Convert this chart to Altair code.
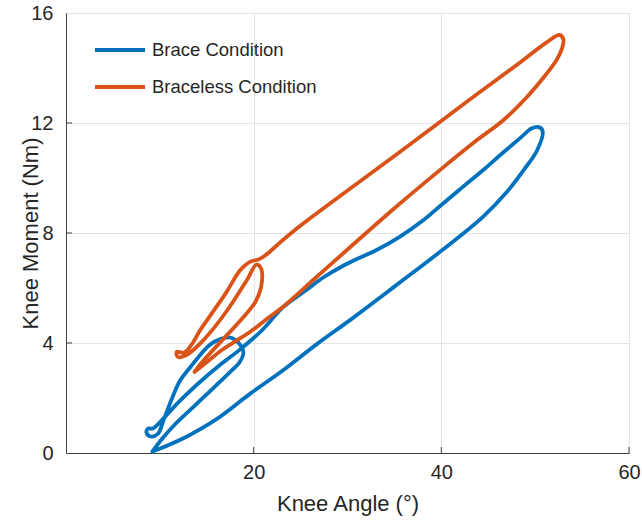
import altair as alt
import pandas as pd

# Knee angle (deg) / knee moment (Nm) loops over one gait cycle
brace_angle = [9.2, 11.0, 13.0, 16.0, 19.6, 23.1, 26.7, 30.3, 35.0, 40.1, 44.4, 47.0, 48.8,
               50.2, 50.8, 50.4, 49.6, 48.4, 46.5, 44.5, 42.2, 40.0, 38.1, 35.6, 33.1,
               31.3, 29.5, 27.5, 25.5, 23.2, 20.7, 18.5, 16.4, 14.0, 12.0, 10.5, 9.3,
               8.7, 8.6, 9.0, 9.8, 10.4, 11.2, 12.1, 13.2, 15.3, 16.5, 17.5, 18.4, 18.9,
               18.5, 17.5, 15.7, 13.5, 11.5, 10.2, 9.2]
brace_moment = [0.05, 0.3, 0.62, 1.22, 2.15, 3.0, 3.95, 4.84, 6.05, 7.38, 8.58, 9.5, 10.3,
                11.0, 11.7, 11.85, 11.8, 11.45, 10.9, 10.3, 9.65, 9.02, 8.47, 7.87, 7.38,
                7.1, 6.8, 6.4, 5.9, 5.32, 4.4, 3.75, 3.2, 2.5, 1.85, 1.3, 0.9,
                0.88, 0.72, 0.6, 0.7, 1.2, 1.9, 2.6, 3.1, 3.93, 4.15, 4.2, 4.0, 3.65,
                3.3, 2.95, 2.36, 1.65, 1.0, 0.5, 0.05]

braceless_angle = [13.7, 15.0, 16.5, 18.0, 19.6, 21.5, 23.1, 26.7, 30.3, 35.0, 40.1, 43.5,
                   46.6, 49.0, 51.0, 52.3, 52.9, 53.0, 52.6, 51.3, 48.0, 44.0, 40.1, 35.0,
                   30.3, 25.0, 22.8, 21.3, 20.6, 19.6, 18.5, 17.1, 15.3, 14.3, 13.5, 12.6,
                   11.8, 11.9, 12.8, 14.5, 17.0, 19.3, 20.3, 20.8, 20.8, 20.2, 18.8, 16.5,
                   14.5, 13.7]
braceless_moment = [2.95, 3.3, 3.72, 4.05, 4.4, 4.9, 5.31, 6.4, 7.49, 8.9, 10.36, 11.3,
                    12.1, 12.9, 13.7, 14.3, 14.75, 15.05, 15.2, 14.95, 14.1, 13.1, 12.1, 10.8,
                    9.62, 8.27, 7.65, 7.2, 7.05, 6.95, 6.62, 5.85, 4.96, 4.47, 4.0, 3.65,
                    3.68, 3.5, 3.55, 4.05, 5.1, 6.3, 6.85, 6.7, 6.05, 5.5, 4.9, 4.05,
                    3.3, 2.95]

series_names = ["Brace Condition", "Braceless Condition"]
series_colors = ["#0072BD", "#D95319"]

x_ticks = [20, 40, 60]
y_ticks = [0, 4, 8, 12, 16]

rows = []
for name, xs, ys in [(series_names[0], brace_angle, brace_moment),
                     (series_names[1], braceless_angle, braceless_moment)]:
    for i, (a, m) in enumerate(zip(xs, ys)):
        rows.append({"condition": name, "idx": i, "angle": a, "moment": m})
df = pd.DataFrame(rows)

FONT = "Liberation Sans"
W, H = 563, 440

x_scale = alt.Scale(domain=[0, 60], nice=False, zero=False)
y_scale = alt.Scale(domain=[0, 16], nice=False, zero=False)

lines = alt.Chart(df).mark_line(strokeWidth=3.8, interpolate="catmull-rom",
                                strokeJoin="round", strokeCap="round").encode(
    x=alt.X("angle:Q", scale=x_scale,
            axis=alt.Axis(title="Knee Angle (°)", values=x_ticks, grid=True, ticks=False,
                          labelFlush=False, labelPadding=9, titlePadding=11)),
    y=alt.Y("moment:Q", scale=y_scale,
            axis=alt.Axis(title="Knee Moment (Nm)", values=y_ticks, grid=True, ticks=False,
                          labelFlush=False, labelPadding=13, titlePadding=-12)),
    color=alt.Color("condition:N",
                    scale=alt.Scale(domain=series_names, range=series_colors),
                    legend=alt.Legend(title=None, orient="none", legendX=27, legendY=10,
                                      symbolType="stroke", symbolSize=2500,
                                      symbolStrokeWidth=3.8, labelFontSize=18.5,
                                      labelFont=FONT, labelColor="#262626", labelLimit=400,
                                      labelOffset=5, rowPadding=-13, padding=0)),
    order=alt.Order("idx:Q"),
    detail="condition:N",
)

# inward tick marks on the bottom and left axes
xtick_df = pd.DataFrame({"v": x_ticks})
ytick_df = pd.DataFrame({"v": [4, 8, 12]})
xticks = alt.Chart(xtick_df).mark_rule(color="#404040", strokeWidth=1).encode(
    x=alt.X("v:Q", scale=x_scale), y=alt.value(H), y2=alt.value(H - 6))
yticks = alt.Chart(ytick_df).mark_rule(color="#404040", strokeWidth=1).encode(
    y=alt.Y("v:Q", scale=y_scale), x=alt.value(0), x2=alt.value(6))

chart = alt.layer(lines, xticks, yticks).properties(
    width=W, height=H,
    autosize=alt.AutoSizeParams(type="none"),
    padding={"left": 66, "top": 13, "right": 13, "bottom": 68},
    background="white",
).configure_view(
    stroke="#a0a0a0", strokeWidth=1
).configure_axis(
    labelFont=FONT, titleFont=FONT, labelFontSize=20, titleFontSize=22,
    labelColor="#262626", titleColor="#262626", titleFontWeight="normal",
    domainColor="#404040", gridColor="#e3e3e3", gridWidth=1,
)

chart.save("out.html", embed_options={"renderer": "svg", "actions": False})
